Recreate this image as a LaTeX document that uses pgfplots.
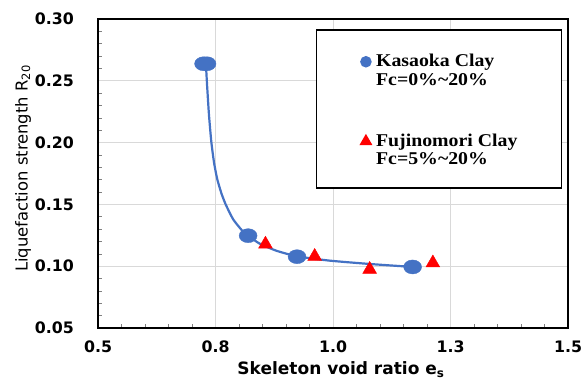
\documentclass[border=0pt]{standalone}
\usepackage{fontspec}
\setmainfont{DejaVu Sans}
\newfontfamily\legfont[FakeStretch=1.1]{Liberation Serif}
\usepackage{pgfplots}
\pgfplotsset{compat=1.18}
\definecolor{kblue}{HTML}{4472C4}
\definecolor{gridgray}{HTML}{D9D9D9}
\pgfplotsset{
  dotlegend/.style={legend image code/.code={\draw[##1, mark size=#1, mark options={xscale=1}] plot coordinates {(0bp,5bp)};}}
}
\begin{document}
\begin{tikzpicture}
\begin{axis}[
  scale only axis,
  width=470bp, height=309bp,
  xmin=0.5, xmax=1.5, ymin=0.05, ymax=0.30,
  xtick={0.5,0.75,1,1.25,1.5},
  xticklabels={0.5,0.8,1.0,1.3,1.5},
  ytick={0.05,0.10,0.15,0.20,0.25,0.30},
  minor x tick num=4, minor y tick num=4,
  grid=major,
  major grid style={gridgray, line width=0.9bp},
  axis line style={black, line width=1.3bp},
  tick align=inside, tick pos=left,
  major tick length=0pt, minor tick length=4bp,
  minor tick style={gray, line width=0.6bp},
  /pgf/number format/assume math mode=true,
  y tick label style={/pgf/number format/fixed, /pgf/number format/fixed zerofill, /pgf/number format/precision=2},
  ticklabel style={font=\fontsize{15.8bp}{18bp}\selectfont\bfseries},
  yticklabel style={anchor=east, inner sep=0pt, xshift=-24bp},
  xticklabel style={anchor=north, inner sep=0pt, yshift=-13bp},
  xlabel={Skeleton void ratio e\textsubscript{s}},
  ylabel={Liquefaction strength R\textsubscript{20}},
  every axis x label/.style={at={(axis description cs:0.517,-0.152)}, anchor=base, font=\fontsize{17bp}{20bp}\selectfont\bfseries},
  every axis y label/.style={at={(axis description cs:-0.150,0.516)}, rotate=90, anchor=base, font=\fontsize{16.4bp}{20bp}\selectfont},
  legend style={at={(axis description cs:0.4638,0.9676)}, anchor=north west,
    draw=black, line width=1.5bp, fill=white,
    inner xsep=44bp, inner ysep=18bp, row sep=43bp, column sep=5bp,
    nodes={inner sep=0pt, text depth=},
    cells={anchor=base west},
    font=\legfont\bfseries\fontsize{18bp}{18.3bp}\selectfont},
]
% fitted curve
\addplot[kblue, line width=2.2bp, smooth, tension=0.35, forget plot] coordinates {
(0.7295,0.2644) (0.7320,0.2470) (0.7360,0.2230) (0.7410,0.2010)
(0.7470,0.1835) (0.7540,0.1700) (0.7630,0.1585) (0.7720,0.1497)
(0.7875,0.1380) (0.8054,0.1294) (0.8194,0.1247) (0.8442,0.1182)
(0.8797,0.1125) (0.9235,0.1080) (0.9930,0.1045) (1.0780,0.1018)
(1.1694,0.0994)
};
% Kasaoka clay
\addplot[only marks, mark=*, kblue, mark size=7bp, mark options={xscale=1.28, draw=kblue, fill=kblue}, dotlegend=5bp] coordinates {
(0.7246,0.2638) (0.7320,0.2638) (0.8194,0.1247) (0.9235,0.1077) (1.1694,0.0994)
};
\addlegendentry{\begin{tabular}[t]{@{}l@{}}\rule{0pt}{19bp}Kasaoka Clay\\Fc=0\%\textasciitilde 20\%\end{tabular}}
% Fujinomori clay
\addplot[only marks, mark=triangle*, red, mark size=8bp, mark options={draw=red, fill=red}, dotlegend=6bp] coordinates {
(0.8563,0.1178) (0.9610,0.1079) (1.0780,0.0974) (1.2125,0.1026)
};
\addlegendentry{\begin{tabular}[t]{@{}l@{}}Fujinomori Clay\\Fc=5\%\textasciitilde 20\%\end{tabular}}
\end{axis}
\path[use as bounding box] ([xshift=-98bp,yshift=-52bp]current axis.south west) rectangle ([xshift=20bp,yshift=19bp]current axis.north east);
\end{tikzpicture}
\end{document}
